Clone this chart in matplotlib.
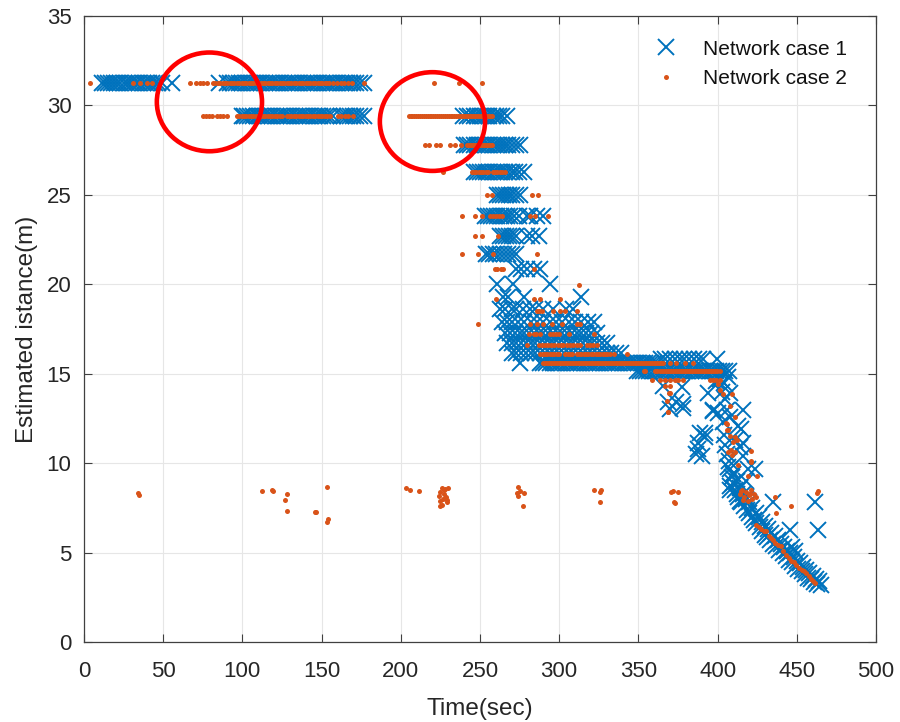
import matplotlib
matplotlib.use("Agg")

import matplotlib.pyplot as plt
import numpy as np
from matplotlib.patches import Ellipse

plt.rcParams["font.family"] = ["Liberation Sans", "DejaVu Sans"]

BLUE = "#0072BD"
ORANGE = "#D95319"
TXT = "#262626"

# ---- network case 1: estimated distance, grouped by quantised distance level ----
C1_T_3125 = [11.5, 13, 15, 17, 19, 21, 23, 25, 27, 29, 31, 33, 35, 37, 39, 41, 43, 45, 47, 49.5,
             55.5, 85, 90, 92, 94, 96, 98, 100, 102, 104, 106, 108, 110, 112, 114, 116, 118, 120,
             122, 124, 126, 128, 130, 132, 134, 136, 138, 140, 142, 144, 146, 148, 150, 152, 154,
             156, 158, 160, 162, 164, 166, 168, 170, 172, 174, 176.5]
C1_T_294 = [99.5, 101, 103, 105, 107, 109, 111, 113, 115, 117, 119, 121, 123, 125, 127, 129, 131,
            133, 135, 137, 139, 141, 143, 145, 147, 149, 151, 153, 155, 157, 162, 164, 166, 168,
            170, 172, 174, 176.5,
            239.5, 242, 244, 246, 248, 250, 252, 254, 256, 258, 260, 262, 264, 267]
C1_T_278 = [240, 242, 244, 246, 248, 250, 252, 254, 256, 258, 260, 262, 264, 266, 268, 270, 273, 275.5]
C1_T_263 = [246, 248, 250, 252, 254, 256, 258, 260, 262, 264, 266, 268, 270, 272, 274.5, 277.5]
C1_T_250 = [260.5, 262.5, 264.5, 266.5, 268.5, 270.5, 272.5, 275.5]
C1_T_238 = [253, 255, 257, 259, 261, 263, 265, 267, 269, 271.5, 274.5, 279.5, 281.5, 286, 290]
C1_T_227 = [262.5, 264.5, 266.5, 268.5, 270.5, 273, 279.5, 283, 287]
C1_T_217 = [254, 256, 258, 260, 262.5, 265, 268, 270.5, 273]
C1_T_209 = [273, 276, 280, 284, 288]
C1_T_200 = [260.5, 271, 294.5]
C1_T_193 = [264.5, 268, 277.5, 313.5]
C1_T_186 = [262.5, 266, 270, 273, 277, 281.5, 285, 290, 296, 304, 309]
C1_T_179 = [264, 267, 270, 274, 278, 282, 286, 290, 294, 298, 302, 306, 310, 314, 318, 322]
C1_T_173 = [266, 269, 272, 275, 278, 281, 284, 287, 290, 293, 296, 299, 302, 305, 308, 311, 314,
            317, 320, 324]
C1_T_167 = [267, 270, 273, 276, 279, 282, 285, 288, 291, 294, 297, 300, 303, 306, 309, 312, 315,
            318, 321, 324, 327, 330]
C1_T_162 = [270, 273, 276, 279, 282, 285, 288, 291, 294, 297, 300, 303, 306, 309, 312, 315, 318,
            321, 324, 327, 330, 333, 336, 339]
C1_T_1585 = [364, 367, 370, 373, 376, 379, 382, 385, 388, 391, 399.5]
C1_T_156 = [275, 288, 290, 292, 294, 296, 298, 300, 302, 304, 306, 308, 310, 312, 314, 316, 318,
            320, 322, 324, 326, 328, 330, 332, 334, 336, 338, 340, 342, 344, 346, 348, 350, 352,
            354, 356, 358, 360, 362]
C1_T_1515 = [349, 351, 353, 355, 357, 359, 361, 363, 365, 367, 369, 371, 373, 375, 377, 379, 381,
             383, 385, 387, 389, 391, 393, 395, 397, 399, 401, 403, 405, 407]

# scattered case-1 estimates during the final approach
C1_SC_T = [365.8, 377.3, 369, 374, 378.4, 370, 378, 394, 397.3, 392, 387.8, 390, 388.6, 391.8,
           386.5, 387.5, 397, 400.2, 399, 401.5, 404, 406.5, 403, 405, 408, 405.7, 416.2, 403.6,
           408, 412.9, 415.1, 411, 416, 414, 416, 406.7, 409.9, 407.8, 418, 419.2, 423.4, 407.6,
           418, 435, 461.4, 463.5, 445.6,
           404, 405, 406, 407, 408, 409, 410, 411, 412, 413, 414, 415, 417, 418.5, 420, 421.5,
           423, 424.5, 426.5, 428, 430, 431.5, 433, 435, 437, 439, 441, 443.5, 445, 447, 449,
           451, 453, 455, 457, 459, 461, 463, 465,
           410, 412, 414, 416, 418, 420, 422, 424, 426, 428, 430, 432, 434, 436, 438, 440, 442,
           444, 446, 448, 450, 452, 454, 456, 458, 460, 462, 464, 447, 449]
C1_SC_D = [14.3, 14.25, 13.4, 13.4, 13.1, 13.0, 13.3, 13.9, 12.95, 11.45, 10.8, 10.4, 11.7, 11.7,
           10.5, 11.1, 12.9, 12.8, 14.6, 14.7, 14.5, 14.8, 14.0, 13.6, 13.9, 12.95, 12.95, 12.3,
           12.6, 12.05, 11.9, 11.3, 11.1, 10.9, 10.4, 9.8, 9.4, 8.7, 9.0, 9.7, 9.7, 8.5,
           8.0, 7.85, 7.85, 6.25, 6.25,
           11.6, 11.0, 10.5, 10.1, 9.7, 9.2, 8.9, 8.5, 8.3, 8.1, 7.9, 7.8, 7.6, 7.4, 7.2, 7.0,
           6.8, 6.65, 6.45, 6.2, 6.0, 5.85, 5.7, 5.5, 5.35, 5.15, 5.0, 4.8, 4.6, 4.45, 4.25,
           4.1, 3.95, 3.8, 3.6, 3.5, 3.35, 3.25, 3.2,
           9.4, 9.0, 8.6, 8.3, 8.1, 7.8, 7.5, 7.2, 7.0, 6.7, 6.5, 6.3, 6.1, 5.9, 5.7, 5.5, 5.3,
           5.1, 4.95, 4.75, 4.55, 4.4, 4.2, 4.0, 3.85, 3.7, 3.55, 3.4, 5.3, 5.1]

# ---- network case 2 ----
C2_T_3125 = [3.8, 31.2, 35.4, 40, 43, 67, 71, 73, 75, 77.5, 81.5, 83, 84.5, 86, 87.5, 89, 90.5,
             92, 93.5, 95, 96.5, 98, 99.5, 101, 102.5, 104, 105.5, 107, 108.5, 110, 111.5, 113,
             114.5, 116, 117.5, 119, 120.5, 122, 123.5, 125, 126.5, 128, 129.5, 131, 132.5, 134,
             135.5, 137, 138.5, 140, 141.5, 143, 144.5, 146, 147.5, 149, 150.5, 152, 153.5, 155,
             157.5, 160, 162, 164, 167, 169.5, 176.8, 221, 237, 251.5]
C2_T_294 = [75.4, 77, 79, 81, 84, 86, 88, 90, 96.5, 98, 99.5, 101, 102.5, 104, 105.5, 107, 108.5,
            110, 111.5, 113, 114.5, 116, 117.5, 119, 120.5, 122, 123.5, 125, 128, 129.5, 131,
            132.5, 134, 135.5, 137, 138.5, 140, 141.5, 143, 144.5, 146, 147.5, 149, 150.5, 152,
            153.5, 155.4, 160.6, 162, 165, 167, 170,
            205, 206.2, 207.4, 208.6, 209.8, 211, 212.2, 213.4, 214.6, 215.8, 217, 218.2, 219.4,
            220.6, 221.8, 223, 224.2, 225.4, 226.6, 227.8, 229, 230.2, 231.4, 232.6, 233.8, 235,
            236.2, 237.4, 238.6, 239.8, 241, 242.2, 243.4, 244.6, 245.8, 247, 248.2, 249.4,
            250.6, 251.8, 253, 254.2, 255.4, 256.6, 257.4]
C2_T_278 = [215, 218, 222, 224.7, 231, 234, 238, 241.6, 243, 244.2, 245.4, 246.6, 247.8, 249,
            250.2, 251.4, 252.6, 253.8, 255, 256.2, 257.4]
C2_T_263 = [226.5, 244.7, 246.2, 247.7, 249.2, 250.7, 252.2, 253.7, 255.2, 258, 259.5, 261, 262.5,
            264, 265.8]
C2_T_250 = [254.2, 257.4, 282.7, 286.9]
C2_T_238 = [238.4, 246.8, 251, 256.3, 258, 260, 262, 263.7, 281.6, 284.8, 293.2]
C2_T_227 = [246.8, 251, 261.6]
C2_T_217 = [238.4, 249, 258.4, 285.8]
C2_T_209 = [259.5, 261, 263, 264.7, 283.8]
C2_T_192 = [260, 283.8, 288, 300.6]
C2_T_185 = [286, 287.5, 289, 296.4, 300.6, 303.8, 311]
C2_T_178 = [249, 281.7, 285.9, 290, 295.4, 301.7, 311, 313.3]
C2_T_172 = [281.2, 283.8, 285.5, 288, 294.3, 296, 298, 299.6, 305.9, 321.7]
C2_T_166 = [279.6, 287, 289, 291, 293, 295, 297, 299, 301, 302.7, 304.8, 307, 309, 311, 313.3,
            317.5, 319.5, 321.5, 323.8]
C2_T_161 = [288, 289.5, 291, 292.5, 294, 295.5, 297, 298.5, 299.6, 303.8, 305.5, 307, 308, 311,
            312.5, 314, 315.5, 317, 318.5, 320, 321.5, 323, 324.5, 326, 327.5, 329, 330.5, 332,
            334.3, 342.8]
C2_T_156 = [290, 291.2, 292.4, 293.6, 294.8, 296, 297.2, 298.4, 299.6, 300.8, 302, 303.2, 304.4,
            305.6, 306.8, 308, 309.2, 310.4, 311.6, 312.8, 314, 315.2, 316.4, 317.6, 318.8, 320,
            321.2, 322.4, 323.6, 324.8, 326, 327.2, 328.4, 329.6, 330.8, 332, 333.2, 334.4,
            335.6, 336.8, 338, 339.2, 340.4, 341.6, 342.8, 344, 345.2, 346.4, 347.6, 348.8, 350,
            351.2, 352.4, 353.6, 354.8, 356, 357.2, 358.4, 359.6, 360.8, 362, 363.2, 364.4,
            365.8, 370, 374, 379.4, 384.7]
C2_T_1515 = [353.4, 354.5, 360.5, 361.8, 363.7, 364.9, 366.1, 367.3, 368.5, 369.7, 370.9, 372.1,
             373.3, 374.5, 375.7, 376.9, 378.1, 379.3, 380.5, 381.7, 382.9, 384.1, 385.3, 386.5,
             387.7, 388.9, 390.1, 391.3, 392.5, 393.7, 394.9, 396.1, 397.3, 398.5, 399.7, 401.5]
C2_T_1466 = [358.4, 363.7, 366.8, 370, 373, 375, 378, 395, 397, 399, 401.5]

C2_SC_T = [312.6, 370, 367.9, 369, 366.8, 370, 369.6, 368.6, 400.4, 401.5, 403.6, 408.8, 407.8,
           411, 405.7, 405.7, 411, 412, 406.7, 408.8, 421.4, 413, 421.4, 419.3, 424.6, 415,
           420.4, 405.5, 406.5, 408, 409.7, 408.6, 410.8, 421.3,
           414, 415.5, 417, 418, 419, 420, 421, 422, 423, 424.5, 416,
           436, 446.2, 436.7, 463, 463.5, 370.7, 372, 375.3, 372.8, 373,
           424.5, 426, 427.5, 429, 430.8, 432.5, 434, 435, 436.5, 438, 440.3, 441.5, 443.5, 445,
           446.5, 448, 449.8, 451.5, 453, 454.5, 456, 457.5, 459, 460.2, 461.4,
           34.3, 34.5, 112.5, 119, 119.5, 128.4, 127, 128.2, 146.5, 146, 153.5, 153.8, 153.5,
           203, 205.6, 211.3, 224.4, 225, 226, 227, 228, 229.7, 224.5, 226.5, 228.5, 229.5, 225,
           226, 229, 227.5, 274, 273.3, 274, 275.5, 278, 277.3, 322, 325.7, 326.2, 326]
C2_SC_D = [19.96, 13.9, 13.5, 12.86, 14.3, 14.3, 13.9, 12.87, 14.44, 14.07, 13.88, 13.88, 13.2,
           12.57, 12.2, 11.83, 11.45, 11.27, 10.6, 10.43, 10.7, 9.87, 10.05, 9.3, 9.3, 8.47,
           8.28, 12.24, 11.87, 11.5, 11.2, 10.75, 10.65, 10.1,
           8.3, 8.5, 8.1, 8.4, 7.9, 8.2, 8.5, 8.0, 8.3, 8.1, 7.95,
           8.13, 7.61, 7.2, 8.32, 8.45, 8.4, 8.45, 8.4, 7.85, 7.75,
           6.55, 6.45, 6.3, 6.2, 6.18, 5.95, 5.8, 5.7, 5.55, 5.45, 5.34, 5.1, 4.87, 4.7,
           4.55, 4.45, 4.3, 4.15, 4.05, 3.95, 3.84, 3.7, 3.55, 3.4, 3.28,
           8.32, 8.22, 8.45, 8.5, 8.42, 8.28, 7.94, 7.33, 7.25, 7.28, 8.69, 6.88, 6.73,
           8.6, 8.5, 8.47, 8.15, 8.4, 8.6, 8.5, 8.55, 8.6, 7.9, 8.0, 8.1, 7.95, 7.6,
           7.65, 7.8, 8.3, 8.65, 8.32, 8.17, 8.45, 8.32, 7.63, 8.5, 8.41, 8.5, 7.81]


def stack(rows, scatter_t, scatter_d):
    t, d = [], []
    for level, times in rows:
        t += list(times)
        d += [level] * len(times)
    t += list(scatter_t)
    d += list(scatter_d)
    return np.array(t), np.array(d)


c1_t, c1_d = stack([
    (31.25, C1_T_3125), (29.4, C1_T_294), (27.8, C1_T_278), (26.3, C1_T_263),
    (25.0, C1_T_250), (23.8, C1_T_238), (22.7, C1_T_227), (21.7, C1_T_217),
    (20.85, C1_T_209), (20.0, C1_T_200), (19.3, C1_T_193), (18.6, C1_T_186),
    (17.9, C1_T_179), (17.3, C1_T_173), (16.7, C1_T_167), (16.15, C1_T_162),
    (15.85, C1_T_1585), (15.6, C1_T_156), (15.15, C1_T_1515),
], C1_SC_T, C1_SC_D)

c2_t, c2_d = stack([
    (31.25, C2_T_3125), (29.4, C2_T_294), (27.8, C2_T_278), (26.3, C2_T_263),
    (25.0, C2_T_250), (23.8, C2_T_238), (22.7, C2_T_227), (21.7, C2_T_217),
    (20.85, C2_T_209), (19.2, C2_T_192), (18.5, C2_T_185), (17.8, C2_T_178),
    (17.2, C2_T_172), (16.6, C2_T_166), (16.1, C2_T_161), (15.6, C2_T_156),
    (15.15, C2_T_1515), (14.66, C2_T_1466),
], C2_SC_T, C2_SC_D)

fig = plt.figure(figsize=(9, 7.22), dpi=100)
ax = fig.add_axes([0.0933, 0.1108, 0.88, 0.867])

ax.plot(c1_t, c1_d, "x", color=BLUE, ms=11, mew=1.4, label="Network case 1")
ax.plot(c2_t, c2_d, "o", color=ORANGE, ms=3.6, mew=0, label="Network case 2")

# highlight the two ambiguous segments
for cx, cy in [(79.2, 30.2), (220.0, 29.1)]:
    ax.add_patch(Ellipse((cx, cy), 66.4, 5.52, fill=False, ec="red", lw=3.3, zorder=5))

ax.set_xlim(0, 500)
ax.set_ylim(0, 35)
ax.set_xticks(range(0, 501, 50))
ax.set_yticks(range(0, 36, 5))
ax.grid(True, color="#e6e6e6", lw=0.8)
ax.set_axisbelow(True)
ax.tick_params(direction="in", length=6, width=0.8, colors="#404040", labelcolor=TXT,
               labelsize=16, top=True, right=True)
ax.tick_params(axis="x", pad=14)
ax.tick_params(axis="y", pad=9)
for sp in ax.spines.values():
    sp.set_color("#404040")
    sp.set_linewidth(0.9)

ax.set_xlabel("Time(sec)", fontsize=17.5, color=TXT, labelpad=11)
ax.set_ylabel("Estimated istance(m)", fontsize=17.5, color=TXT, labelpad=6)

leg = ax.legend(loc="upper right", bbox_to_anchor=(0.987, 0.992), frameon=False,
                fontsize=15, handletextpad=0.75, labelspacing=0.5, markerscale=1.0)
for txt in leg.get_texts():
    txt.set_color("#111111")

fig.savefig("out.png", dpi=100)
